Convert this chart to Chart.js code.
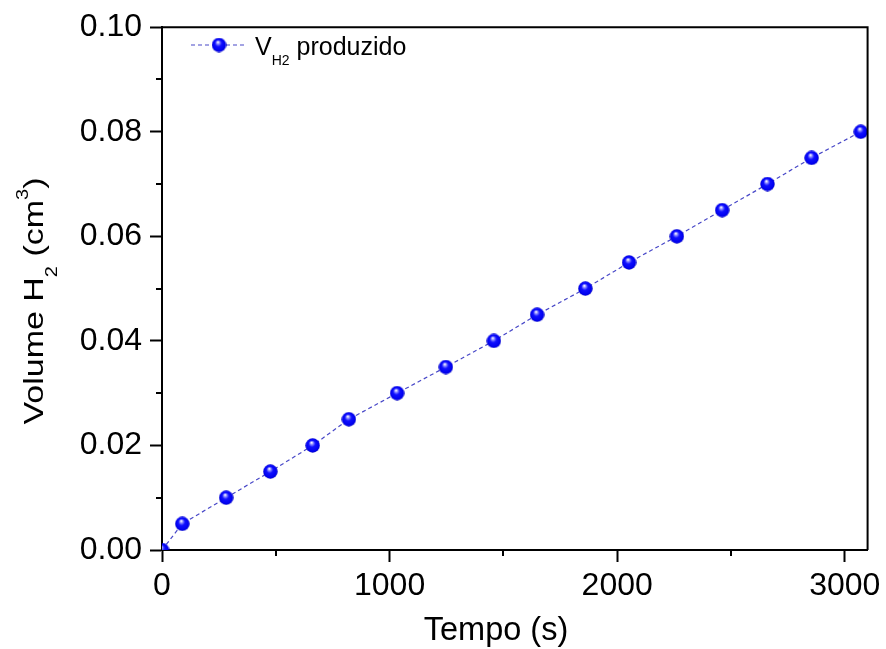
<!DOCTYPE html>
<html>
<head>
<meta charset="utf-8">
<script src="https://cdn.jsdelivr.net/npm/chart.js@4/dist/chart.umd.min.js"></script>
<style>
  body { margin: 0; background: #fff; }
  #wrap { width: 886px; height: 649px; position: relative; }
</style>
</head>
<body>
<div id="wrap"><canvas id="chart-canvas"></canvas></div>
<script>
// Tempo (s) vs volume of H2 produced
const tempo = [0, 89, 282, 476, 662, 821, 1033, 1247, 1458, 1648, 1860, 2052, 2262, 2461, 2660, 2854, 3070];
const volumeH2 = [0, 0.005, 0.01, 0.015, 0.02, 0.025, 0.03, 0.035, 0.04, 0.045, 0.05, 0.055, 0.06, 0.065, 0.07, 0.075, 0.08];

const xTickValues = [0, 1000, 2000, 3000];
const xMinorTicks = [500, 1500, 2500];
const yTickValues = [0, 0.02, 0.04, 0.06, 0.08, 0.1];
const yMinorTicks = [0.01, 0.03, 0.05, 0.07, 0.09];

const FONT = '"Liberation Sans", Arial, sans-serif';

// little shaded blue ball used as the marker
function makeSphere(r) {
  const size = Math.ceil(r * 2);
  const c = document.createElement('canvas');
  c.width = c.height = size;
  const g = c.getContext('2d');
  const m = size / 2;
  const grad = g.createRadialGradient(m * 0.85, m * 0.6, 0.3, m, m, r);
  grad.addColorStop(0, '#ffffff');
  grad.addColorStop(0.2, '#8080ff');
  grad.addColorStop(0.42, '#1010ff');
  grad.addColorStop(0.85, '#0000ee');
  grad.addColorStop(1, '#0000b0');
  g.fillStyle = grad;
  g.beginPath();
  g.arc(m, m, r - 0.3, 0, Math.PI * 2);
  g.fill();
  return c;
}
const sphere = makeSphere(7.5);

// draw text with sub/superscripts, parts = [[text, size, dy]]
function richWidth(ctx, parts) {
  let w = 0;
  parts.forEach(([t, size]) => {
    ctx.font = size + 'px ' + FONT;
    w += ctx.measureText(t).width;
  });
  return w;
}
function drawRich(ctx, parts, x, y) {
  parts.forEach(([t, size, dy]) => {
    ctx.font = size + 'px ' + FONT;
    ctx.fillText(t, x, y + dy);
    x += ctx.measureText(t).width;
  });
}

const decorPlugin = {
  id: 'decor',
  afterDraw(chart) {
    const ctx = chart.ctx;
    const area = chart.chartArea;
    const xs = chart.scales.x;
    const ys = chart.scales.y;
    ctx.save();
    ctx.strokeStyle = '#000';
    ctx.lineWidth = 2;

    // top and right frame lines
    ctx.beginPath();
    ctx.moveTo(area.left, area.top);
    ctx.lineTo(area.right, area.top);
    ctx.lineTo(area.right, area.bottom);
    ctx.stroke();

    // minor ticks
    ctx.beginPath();
    xMinorTicks.forEach((v) => {
      const px = Math.round(xs.getPixelForValue(v));
      ctx.moveTo(px, area.bottom);
      ctx.lineTo(px, area.bottom + 6);
    });
    yMinorTicks.forEach((v) => {
      const py = Math.round(ys.getPixelForValue(v));
      ctx.moveTo(area.left, py);
      ctx.lineTo(area.left - 6, py);
    });
    ctx.stroke();

    ctx.fillStyle = '#000';
    ctx.textBaseline = 'alphabetic';
    ctx.textAlign = 'left';

    // x title
    const xParts = [['Tempo (s)', 32.5, 0]];
    drawRich(ctx, xParts, 496 - richWidth(ctx, xParts) / 2, 640);

    // y title (rotated, a bit condensed like the original)
    const yParts = [['Volume H', 34, 0], ['2', 20, 17], [' (cm', 34, 0], ['3', 20, -18], [')', 34, 0]];
    ctx.save();
    ctx.translate(43, 301);
    ctx.rotate(-Math.PI / 2);
    ctx.scale(1, 0.84);
    drawRich(ctx, yParts, -richWidth(ctx, yParts) / 2, 0);
    ctx.restore();

    // legend
    ctx.strokeStyle = '#4848c8';
    ctx.lineWidth = 1.2;
    ctx.setLineDash([4, 3]);
    ctx.beginPath();
    ctx.moveTo(191, 45);
    ctx.lineTo(245, 45);
    ctx.stroke();
    ctx.setLineDash([]);
    ctx.drawImage(sphere, 219 - sphere.width / 2, 45 - sphere.height / 2);
    drawRich(ctx, [['V', 25, 0], ['H2', 14, 10], [' produzido', 25, 0]], 255, 55);
    ctx.restore();
  },
};

const chartCtx = document.getElementById('chart-canvas').getContext('2d');
new Chart(chartCtx, {
  type: 'line',
  data: {
    datasets: [
      {
        label: 'VH2 produzido',
        data: tempo.map((t, i) => ({ x: t, y: volumeH2[i] })),
        borderColor: '#4848c8',
        borderWidth: 1.2,
        borderDash: [4, 3],
        pointStyle: sphere,
        pointRadius: 7.5,
        tension: 0,
        clip: 0,
      },
    ],
  },
  options: {
    responsive: true,
    maintainAspectRatio: false,
    animation: false,
    layout: { padding: { top: 24, right: 18, left: 0, bottom: 0 } },
    plugins: {
      legend: { display: false },
      tooltip: { enabled: false },
      title: { display: false },
    },
    scales: {
      x: {
        type: 'linear',
        min: 0,
        max: 3100,
        afterBuildTicks: (scale) => {
          scale.ticks = xTickValues.map((v) => ({ value: v }));
        },
        afterFit: (scale) => {
          scale.height = 99;
        },
        ticks: {
          font: { size: 32, family: FONT },
          color: '#000',
          padding: 5,
          maxRotation: 0,
          autoSkip: false,
          callback: (v) => String(v),
        },
        grid: {
          drawOnChartArea: false,
          drawTicks: true,
          tickLength: 12,
          tickWidth: 2,
          tickColor: '#000',
        },
        border: { display: true, color: '#000', width: 2 },
      },
      y: {
        type: 'linear',
        min: 0,
        max: 0.1,
        afterBuildTicks: (scale) => {
          scale.ticks = yTickValues.map((v) => ({ value: v }));
        },
        afterFit: (scale) => {
          scale.width = 162;
        },
        ticks: {
          font: { size: 32, family: FONT },
          color: '#000',
          padding: 8,
          autoSkip: false,
          callback: (v) => Number(v).toFixed(2),
        },
        grid: {
          drawOnChartArea: false,
          drawTicks: true,
          tickLength: 12,
          tickWidth: 2,
          tickColor: '#000',
        },
        border: { display: true, color: '#000', width: 2 },
      },
    },
  },
  plugins: [decorPlugin],
});
</script>
</body>
</html>
